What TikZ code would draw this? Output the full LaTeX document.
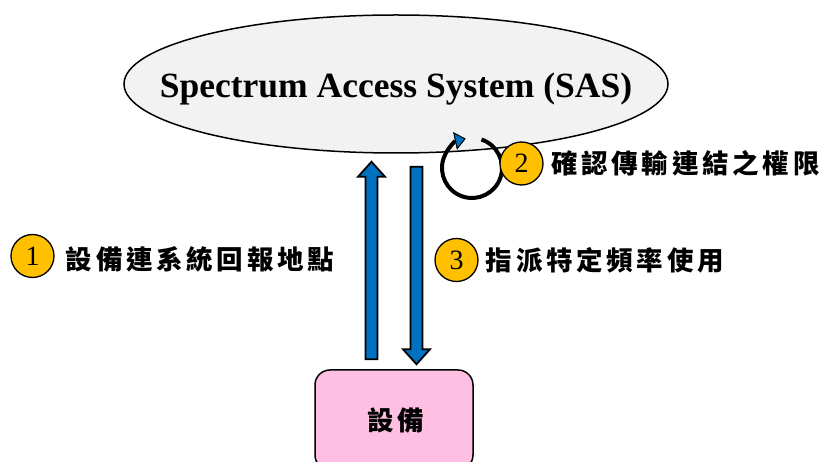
\documentclass[tikz,border=0pt]{standalone}
\usepackage{fontspec}
\setmainfont{Liberation Serif}
\newfontfamily\cjk[LetterSpace=14]{Noto Sans CJK TC}
\usetikzlibrary{arrows.meta,positioning,calc,shapes.geometric}
\definecolor{SASGray}{HTML}{F2F2F2}
\definecolor{StepGold}{HTML}{FFC000}
\definecolor{LinkBlue}{HTML}{0070C0}
\definecolor{DevPink}{HTML}{FFBFE3}
\newcommand{\blockarrow}[2]{%
  \path ($(#2)!15pt!(#1)$) coordinate (hb);
  \draw[blk] ($(#1)!6pt!90:(#2)$) -- ($(hb)!6pt!-90:(#1)$) -- ($(hb)!13.5pt!-90:(#1)$) -- (#2)
    -- ($(hb)!13.5pt!90:(#1)$) -- ($(hb)!6pt!90:(#1)$) -- ($(#1)!6pt!-90:(#2)$) -- cycle;}

\begin{document}
\begin{tikzpicture}[x=1pt,y=-1pt,
sas/.style={ellipse,draw,line width=1.5pt,fill=SASGray,minimum width=544,minimum height=138,inner sep=0pt},
dev/.style={draw,line width=1.5pt,fill=DevPink,rounded corners=15pt,minimum width=158,minimum height=100,inner sep=0pt},
num/.style={circle,draw,line width=1.3pt,fill=StepGold,minimum size=43,inner sep=0pt,font=\fontsize{28}{32}\selectfont},
caption/.style={inner sep=0pt,font=\fontsize{26.5}{30}\cjk\bfseries},
blk/.style={draw,line width=1.8pt,fill=LinkBlue,line join=miter},
cyc/.style={line width=4pt,-{Triangle[length=11pt,width=18pt,line width=1pt,fill=LinkBlue]}}]
\useasboundingbox (0,0) rectangle (823,462);
\clip (0,0) rectangle (823,462);
\node[sas] (sas) at (396,84) {};
\node[font=\fontsize{35.5}{40}\selectfont\bfseries,yshift=-5pt] (sastxt) at (sas) {Spectrum Access System (SAS)};
\node[dev] (dev) at (394,420) {};
\node[caption,xshift=2pt] (devtxt) at (dev) {設備};
\coordinate (upT) at ($(dev.north)+(-22.5,-10)$);
\coordinate (upP) at ($(dev.north |- sas.south)+(-22.5,8)$);
\coordinate (dnT) at ($(dev.north |- sas.south)+(22.5,13)$);
\coordinate (dnP) at ($(dev.north)+(22.5,-5)$);
\blockarrow{upT}{upP}
\blockarrow{dnT}{dnP}
\coordinate (loop) at (472,168);
\draw[cyc] (loop) ++(-71.6:30) arc[start angle=-71.6,end angle=258,radius=30];
\node[num] (n1) at (32.5,256) {1};
\node[num] (n2) at (521.5,163.5) {2};
\node[num] (n3) at (456.5,260) {3};
\node[caption,right=11pt of n1,yshift=-3pt] (t1) {設備連系統回報地點};
\node[caption,right=7.5pt of n2] (t2) {確認傳輸連結之權限};
\node[caption,right=7pt of n3] (t3) {指派特定頻率使用};
\end{tikzpicture}
\end{document}
